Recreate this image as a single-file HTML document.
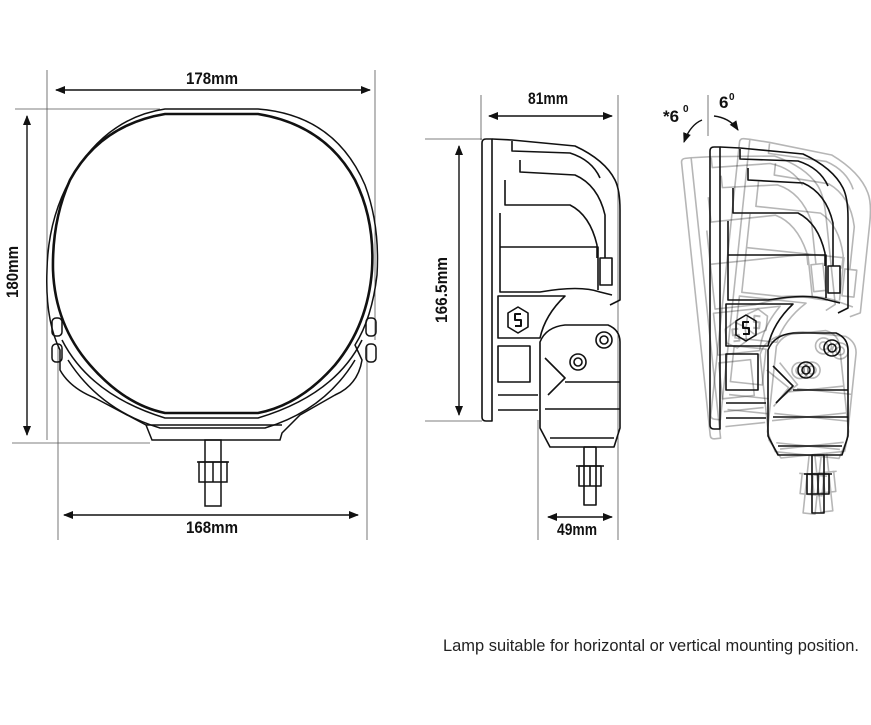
<!DOCTYPE html>
<html><head><meta charset="utf-8"><style>
html,body{margin:0;padding:0;background:#fff;}
svg{display:block}
.d{font-family:"Liberation Sans",sans-serif;font-weight:bold;font-size:17px;fill:#111}
.c{font-family:"Liberation Sans",sans-serif;font-size:16.3px;fill:#222}
</style></head><body>
<svg width="871" height="725" viewBox="0 0 871 725" xmlns="http://www.w3.org/2000/svg">
<defs>
<marker id="a" markerWidth="10" markerHeight="8" refX="9" refY="4" orient="auto-start-reverse" markerUnits="userSpaceOnUse">
<path d="M0,0 L10,4 L0,8 Z" fill="#111"/></marker>
<g id="lamp" fill="none" stroke="#111" stroke-width="1.6" stroke-linejoin="round">
<path d="M486,139 L492,139 L492,421 L486,421 Q482,421 482,417 L482,143 Q482,139 486,139 Z"/>
<path d="M492,139 L512,140 L575,146 Q605,160 615,180 Q620,190 620,210 L620,300 L610,305"/>
<path d="M512,141 L512,151 L570,153 Q592,160 600,178"/>
<path d="M520,160 L520,172 L575,175 Q598,185 605,215 L605,258"/>
<path d="M505,180 L505,205 L570,205 Q590,215 597,245 L597,258"/>
<path d="M500,213 L500,292 L540,292 Q580,285 600,292 L612,295"/>
<path d="M500,247 L598,247 L598,290"/>
<path d="M600,258 L612,258 L612,285 L600,285 Z"/>
<path d="M498,296 L565,296 Q545,315 540,338 L498,338 Z"/>
<path d="M518,307 L528,313 L528,327 L518,333 L508,327 L508,313 Z"/>
<path d="M521,314 L515,314 L515,320 L521,320 L521,326 L515,326" stroke-width="2"/>
<path d="M498,346 L530,346 L530,382 L498,382 Z"/>
<path d="M498,395 L538,395 M498,410 L538,410"/>
<path d="M540,342 Q546,327 565,325 L608,325 Q620,330 620,342 L620,428 L614,447 L550,447 L540,428 Z"/>
<path d="M545,358 L565,378 L548,395"/>
<path d="M565,382 L620,382 M545,409 L620,409 M550,438 L614,438"/>
<circle cx="604" cy="340" r="8"/><circle cx="604" cy="340" r="4"/>
<circle cx="578" cy="362" r="8"/><circle cx="578" cy="362" r="4"/>
<rect x="584" y="447" width="12" height="58"/>
<rect x="579" y="466" width="22" height="20"/>
<path d="M590,466 L590,486 M576,466 L604,466"/>
</g>
</defs>

<!-- FRONT VIEW -->
<g fill="none" stroke="#111">
<path d="M47,70 L47,440 M375,70 L375,340 M15,109 L160,109 M12,443 L150,443 M58,345 L58,540 M367,345 L367,540" stroke-width="0.8" stroke="#555"/>
<line x1="56" y1="90" x2="370" y2="90" stroke-width="1.4" marker-start="url(#a)" marker-end="url(#a)"/>
<line x1="27" y1="116" x2="27" y2="435" stroke-width="1.4" marker-start="url(#a)" marker-end="url(#a)"/>
<line x1="64" y1="515" x2="358" y2="515" stroke-width="1.4" marker-start="url(#a)" marker-end="url(#a)"/>
<g stroke-width="1.5">
<path d="M165,109 L258,109 Q335,115 365,185 Q380,225 377,275 Q372,318 355,345 L362,360 Q358,385 335,395 L300,415 Q290,425 282,433 L280,440 L152,440 L146,425 L95,398 Q70,388 60,370 L60,350 Q45,320 47,270 Q48,220 70,180 Q105,118 165,109 Z"/>
<path d="M165,114 L258,114 Q325,125 355,180 Q375,220 372,270 Q368,325 335,365 Q300,405 258,413 L165,413 Q125,405 90,365 Q55,325 53,270 Q52,220 70,180 Q100,125 165,114 Z" stroke-width="2.6"/>
<path d="M62,340 Q90,395 165,418 L258,418 Q335,395 362,340"/>
<path d="M68,360 Q100,410 160,428 L265,428 Q325,410 355,360"/>
<path d="M146,425 L282,425"/>
<rect x="52" y="318" width="10" height="18" rx="4"/><rect x="52" y="344" width="10" height="18" rx="4"/>
<rect x="366" y="318" width="10" height="18" rx="4"/><rect x="366" y="344" width="10" height="18" rx="4"/>
<rect x="205" y="440" width="16" height="66"/>
<rect x="199" y="462" width="28" height="20"/>
<path d="M213,462 L213,482 M197,462 L229,462"/>
</g>
</g>
<text class="d" x="186" y="84" textLength="52" lengthAdjust="spacingAndGlyphs">178mm</text>
<text class="d" transform="translate(18,272) rotate(-90)" x="-26" textLength="52" lengthAdjust="spacingAndGlyphs">180mm</text>
<text class="d" x="186" y="533" textLength="52" lengthAdjust="spacingAndGlyphs">168mm</text>

<!-- SIDE VIEW -->
<g fill="none" stroke="#555" stroke-width="0.8">
<path d="M481,95 L481,140 M618,95 L618,540 M425,139 L482,139 M425,421 L482,421 M538,420 L538,540"/>
</g>
<g stroke="#111" stroke-width="1.4">
<line x1="489" y1="116" x2="612" y2="116" marker-start="url(#a)" marker-end="url(#a)"/>
<line x1="459" y1="146" x2="459" y2="415" marker-start="url(#a)" marker-end="url(#a)"/>
<line x1="548" y1="517" x2="612" y2="517" marker-start="url(#a)" marker-end="url(#a)"/>
</g>
<use href="#lamp"/>
<text class="d" x="528" y="104" textLength="40" lengthAdjust="spacingAndGlyphs">81mm</text>
<text class="d" transform="translate(447,290) rotate(-90)" x="-33" textLength="66" lengthAdjust="spacingAndGlyphs">166.5mm</text>
<text class="d" x="557" y="535" textLength="40" lengthAdjust="spacingAndGlyphs">49mm</text>

<!-- TILTED VIEW -->
<g opacity="0.3"><use href="#lamp" transform="translate(228,8) rotate(-6 580 420)"/></g>
<g opacity="0.3"><use href="#lamp" transform="translate(228,8) rotate(6 580 420)"/></g>
<use href="#lamp" transform="translate(228,8)"/>
<line x1="708" y1="95" x2="708" y2="136" stroke="#555" stroke-width="0.8"/>
<path d="M702,120 Q690,125 684,142" fill="none" stroke="#111" stroke-width="1.4" marker-end="url(#a)"/>
<path d="M714,116 Q730,118 738,130" fill="none" stroke="#111" stroke-width="1.4" marker-end="url(#a)"/>
<text class="d" x="663" y="122">*6</text><text class="d" x="683" y="112" style="font-size:10px">0</text>
<text class="d" x="719" y="108">6</text><text class="d" x="729" y="100" style="font-size:10px">0</text>

<text class="c" x="443" y="651" textLength="416" lengthAdjust="spacingAndGlyphs">Lamp suitable for horizontal or vertical mounting position.</text>
</svg>
</body></html>
